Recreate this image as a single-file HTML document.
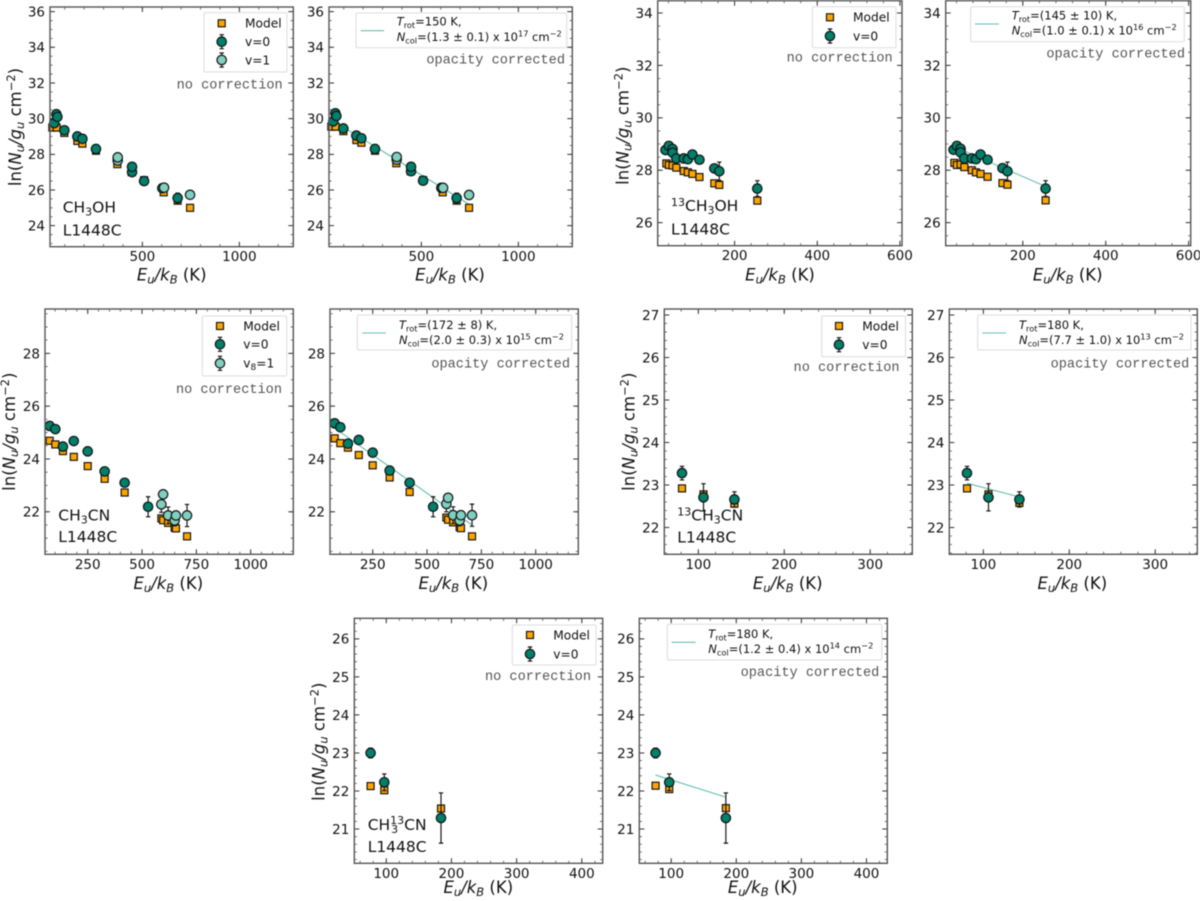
<!DOCTYPE html>
<html lang="en">
<head>
<meta charset="utf-8">
<title>Rotation diagrams L1448C</title>
<style>
html,body{margin:0;padding:0;background:#fff;}
svg{display:block;filter:blur(0.45px);}
text{font-family:"DejaVu Sans","Liberation Sans",sans-serif;fill:#111;}
.mono{font-family:"Liberation Mono","DejaVu Sans Mono",monospace;fill:#555;}
</style>
</head>
<body>
<svg id="figure" xmlns="http://www.w3.org/2000/svg" width="1200" height="901" viewBox="0 0 1200 901"></svg>
<script>
// ---------- CH3OH ----------
const ch3ohModelEu = [36, 58, 98, 165, 191, 261, 371, 445, 445, 509, 610, 682, 746];
const ch3ohModelNo = [29.5, 29.5, 29.2, 28.75, 28.6, 28.2, 27.45, 27.0, 27.2, 26.55, 25.87, 25.4, 25.0];
const ch3ohModelOp = [29.55, 29.55, 29.3, 28.8, 28.65, 28.2, 27.5, 27.05, 27.2, 26.55, 25.87, 25.4, 25.0];
const ch3ohV0Eu = [46, 57, 62, 98, 165, 191, 261, 447, 447, 509, 603, 682];
const ch3ohV0No = [29.75, 30.25, 30.1, 29.35, 29.0, 28.87, 28.3, 27.0, 27.3, 26.5, 26.1, 25.55];
const ch3ohV0Op = [29.85, 30.3, 30.15, 29.45, 29.05, 28.9, 28.3, 27.05, 27.3, 26.52, 26.12, 25.55];
const ch3ohV0Err = [0.1, 0.1, 0.1, 0.1, 0.1, 0.1, 0.1, 0.1, 0.1, 0.15, 0.15, 0.28];
const ch3ohV1Eu = [373, 373, 612, 746];
const ch3ohV1No = [27.65, 27.83, 26.13, 25.73];
const ch3ohV1Op = [27.7, 27.85, 26.12, 25.72];
const ch3ohV1Err = [0.1, 0.1, 0.1, 0.1];
const ch3ohFitEu = [46, 746];
const ch3ohFitY = [29.87, 25.2];
const ch3ohXTicks = [500, 1000];
const ch3ohYTicks = [24, 26, 28, 30, 32, 34, 36];

// ---------- 13CH3OH ----------
const c13h3ohModelEu = [35, 41, 50, 59, 77, 87, 98, 115, 151, 163, 255];
const c13h3ohModelNo = [28.26, 28.2, 28.18, 28.1, 27.97, 27.92, 27.86, 27.74, 27.5, 27.44, 26.84];
const c13h3ohModelOp = [28.28, 28.2, 28.22, 28.12, 28.0, 27.92, 27.86, 27.75, 27.51, 27.45, 26.85];
const c13h3ohV0Eu = [33, 41, 50, 50, 59, 77, 87, 98, 115, 151, 163, 255];
const c13h3ohV0No = [28.77, 28.93, 28.81, 28.67, 28.45, 28.45, 28.42, 28.6, 28.4, 28.07, 27.96, 27.3];
const c13h3ohV0Op = [28.78, 28.93, 28.82, 28.68, 28.45, 28.45, 28.42, 28.6, 28.4, 28.08, 27.96, 27.3];
const c13h3ohV0Err = [0.1, 0.1, 0.1, 0.1, 0.1, 0.1, 0.1, 0.1, 0.1, 0.15, 0.35, 0.3];
const c13h3ohFitEu = [33, 255];
const c13h3ohFitY = [28.91, 27.38];
const c13h3ohXTicks = [200, 400, 600];
const c13h3ohYTicks = [26, 28, 30, 32, 34];

// ---------- CH3CN ----------
const ch3cnModelEu = [75, 101, 136, 186, 250, 328, 420, 589, 597, 620, 650, 656, 707];
const ch3cnModelNo = [24.69, 24.55, 24.3, 24.08, 23.73, 23.25, 22.73, 21.75, 21.68, 21.58, 21.4, 21.37, 21.07];
const ch3cnModelOp = [24.78, 24.6, 24.43, 24.15, 23.76, 23.3, 22.75, 21.78, 21.7, 21.6, 21.42, 21.38, 21.07];
const ch3cnV0Eu = [75, 101, 136, 186, 250, 328, 420, 528];
const ch3cnV0No = [25.25, 25.13, 24.47, 24.68, 24.29, 23.53, 23.1, 22.19];
const ch3cnV0Op = [25.35, 25.2, 24.58, 24.72, 24.24, 23.56, 23.1, 22.19];
const ch3cnV0Err = [0.1, 0.1, 0.1, 0.1, 0.1, 0.1, 0.12, 0.38];
const ch3cnV1Eu = [589, 597, 620, 650, 656, 707];
const ch3cnV1No = [22.28, 22.66, 21.86, 21.67, 21.86, 21.86];
const ch3cnV1Op = [22.3, 22.53, 21.87, 21.67, 21.87, 21.87];
const ch3cnV1Err = [0.3, 0.15, 0.32, 0.2, 0.15, 0.42];
const ch3cnFitEu = [75, 707];
const ch3cnFitY = [25.17, 21.5];
const ch3cnXTicks = [250, 500, 750, 1000];
const ch3cnYTicks = [22, 24, 26, 28];

// ---------- 13CH3CN ----------
const c13h3cnModelEu = [81, 106, 142];
const c13h3cnModelNo = [22.92, 22.78, 22.56];
const c13h3cnModelOp = [22.92, 22.78, 22.58];
const c13h3cnV0Eu = [81, 106, 142];
const c13h3cnV0No = [23.28, 22.71, 22.66];
const c13h3cnV0Op = [23.28, 22.71, 22.66];
const c13h3cnV0Err = [0.16, 0.32, 0.18];
const c13h3cnFitEu = [81, 142];
const c13h3cnFitY = [23.04, 22.72];
const c13h3cnXTicks = [100, 200, 300];
const c13h3cnYTicks = [22, 23, 24, 25, 26, 27];

// ---------- CH3 13CN ----------
const ch313cnModelEu = [76, 97, 184];
const ch313cnModelNo = [22.13, 22.02, 21.54];
const ch313cnModelOp = [22.14, 22.05, 21.55];
const ch313cnV0Eu = [76, 97, 184];
const ch313cnV0No = [23.0, 22.23, 21.29];
const ch313cnV0Op = [23.0, 22.23, 21.29];
const ch313cnV0Err = [0.13, 0.22, 0.66];
const ch313cnFitEu = [76, 184];
const ch313cnFitY = [22.42, 21.84];
const ch313cnXTicks = [100, 200, 300, 400];
const ch313cnYTicks = [21, 22, 23, 24, 25, 26];

// ---------- text ----------
const xLabelText = '<tspan font-style="italic">E</tspan><tspan font-style="italic" dy="3" font-size="11.5">u</tspan><tspan font-style="italic" dy="-3">/k</tspan><tspan font-style="italic" dy="3" font-size="11.5">B</tspan><tspan dy="-3"> (K)</tspan>';
const yLabelText = 'ln(<tspan font-style="italic">N</tspan><tspan font-style="italic" dy="3" font-size="11.5">u</tspan><tspan font-style="italic" dy="-3">/g</tspan><tspan font-style="italic" dy="3" font-size="11.5">u</tspan><tspan dy="-3"> cm</tspan><tspan dy="-6" font-size="11.5">\u22122</tspan><tspan dy="6">)</tspan>';
const trotLine = (t) => '<tspan font-style="italic">T</tspan><tspan dy="2.5" font-size="8.2">rot</tspan><tspan dy="-2.5">=' + t + '</tspan>';
const ncolLine = (n, e) => '<tspan font-style="italic">N</tspan><tspan dy="2.5" font-size="8.2">col</tspan><tspan dy="-2.5">=' + n + ' x 10</tspan><tspan dy="-4.5" font-size="8.2">' + e + '</tspan><tspan dy="4.5"> cm</tspan><tspan dy="-4.5" font-size="8.2">\u22122</tspan>';

// ---------- panel layout ----------
const panels = [
 {id:'ch3oh-no-correction', box:[50,293.3,7,246.7], xlim:[24,1278], ylim:[22.82,36.26], xt:ch3ohXTicks, yt:ch3ohYTicks, xm:100, ym:0.5,
  model:[ch3ohModelEu,ch3ohModelNo], v0:[ch3ohV0Eu,ch3ohV0No,ch3ohV0Err], v1:[ch3ohV1Eu,ch3ohV1No,ch3ohV1Err],
  xlab:[171.7,280.5], ylab:[15,127], note:['no correction',282.7,85],
  legend:{box:[204,12.7,83,59.3], mx:221.7, tx:245, ys:[23.3,41.7,60], labels:['Model','v=0','v=1']},
  ann:[['CH<tspan dy="3" font-size="11">3</tspan><tspan dy="-3">OH</tspan>',62.7,207],['L1448C',62.7,230]]},
 {id:'ch3oh-opacity-corrected', box:[329,572.3,7,246.7], xlim:[24,1278], ylim:[22.82,36.26], xt:ch3ohXTicks, yt:ch3ohYTicks, xm:100, ym:0.5,
  model:[ch3ohModelEu,ch3ohModelOp], v0:[ch3ohV0Eu,ch3ohV0Op,ch3ohV0Err], v1:[ch3ohV1Eu,ch3ohV1Op,ch3ohV1Err], fit:[ch3ohFitEu,ch3ohFitY],
  xlab:[450,280.5], note:['opacity corrected',565,60],
  fitLegend:{box:[356,13,210.7,34.7], lx:[360.7,384], ly:30.7, tx:396.7, ys:[21.7,37], l1:trotLine('150 K,'), l2:ncolLine('(1.3 \u00b1 0.1)','17')}},
 {id:'13ch3oh-no-correction', box:[657.7,902,0.7,245.7], xlim:[14,605], ylim:[25.12,34.47], xt:c13h3ohXTicks, yt:c13h3ohYTicks, xm:40, ym:0.5,
  model:[c13h3ohModelEu,c13h3ohModelNo], v0:[c13h3ohV0Eu,c13h3ohV0No,c13h3ohV0Err],
  xlab:[780,280.5], ylab:[622.7,125.7], note:['no correction',892.7,58],
  legend:{box:[812.3,6.7,83.7,41], mx:830, tx:853, ys:[17.3,36], labels:['Model','v=0']},
  ann:[['<tspan dy="-5" font-size="11">13</tspan><tspan dy="5">CH</tspan><tspan dy="3" font-size="11">3</tspan><tspan dy="-3">OH</tspan>',671,205.7],['L1448C',671,229]]},
 {id:'13ch3oh-opacity-corrected', box:[945.7,1190.7,0.7,245.7], xlim:[14,605], ylim:[25.12,34.47], xt:c13h3ohXTicks, yt:c13h3ohYTicks, xm:40, ym:0.5,
  model:[c13h3ohModelEu,c13h3ohModelOp], v0:[c13h3ohV0Eu,c13h3ohV0Op,c13h3ohV0Err], fit:[c13h3ohFitEu,c13h3ohFitY],
  xlab:[1067.7,280.5], note:['opacity corrected',1185,54],
  fitLegend:{box:[970.7,6.7,213.6,35], lx:[975,999], ly:24, tx:1011.7, ys:[15.7,30.7], l1:trotLine('(145 \u00b1 10) K,'), l2:ncolLine('(1.0 \u00b1 0.1)','16')}},
 {id:'ch3cn-no-correction', box:[45,293.3,309,554.3], xlim:[53.5,1196], ylim:[20.39,29.68], xt:ch3cnXTicks, yt:ch3cnYTicks, xm:50, ym:0.5,
  model:[ch3cnModelEu,ch3cnModelNo], v0:[ch3cnV0Eu,ch3cnV0No,ch3cnV0Err], v1:[ch3cnV1Eu,ch3cnV1No,ch3cnV1Err],
  xlab:[168.3,589], ylab:[9,431.7], note:['no correction',282,389.3],
  legend:{box:[202.3,316,84.4,60], mx:220, tx:243.3, ys:[326,344.3,363.3], labels:['Model','v=0','v<tspan dy="2.5" font-size="9">8</tspan><tspan dy="-2.5">=1</tspan>']},
  ann:[['CH<tspan dy="3" font-size="11">3</tspan><tspan dy="-3">CN</tspan>',58.3,515],['L1448C',58.3,536.7]]},
 {id:'ch3cn-opacity-corrected', box:[330,578.3,309,554.3], xlim:[53.5,1196], ylim:[20.39,29.68], xt:ch3cnXTicks, yt:ch3cnYTicks, xm:50, ym:0.5,
  model:[ch3cnModelEu,ch3cnModelOp], v0:[ch3cnV0Eu,ch3cnV0Op,ch3cnV0Err], v1:[ch3cnV1Eu,ch3cnV1Op,ch3cnV1Err], fit:[ch3cnFitEu,ch3cnFitY],
  xlab:[453.3,589], note:['opacity corrected',570,364],
  fitLegend:{box:[357.3,315,214.4,35], lx:[362.3,386], ly:333, tx:399, ys:[325,340], l1:trotLine('(172 \u00b1 8) K,'), l2:ncolLine('(2.0 \u00b1 0.3)','15')}},
 {id:'13ch3cn-no-correction', box:[664.3,912.3,309,554.3], xlim:[60.4,349], ylim:[21.37,27.14], xt:c13h3cnXTicks, yt:c13h3cnYTicks, xm:20, ym:0.2,
  model:[c13h3cnModelEu,c13h3cnModelNo], v0:[c13h3cnV0Eu,c13h3cnV0No,c13h3cnV0Err],
  xlab:[787.7,589], ylab:[628.3,431.7], note:['no correction',899.6,367.3],
  legend:{box:[821.7,316,83.8,40.7], mx:839, tx:862.3, ys:[326,344.7], labels:['Model','v=0']},
  ann:[['<tspan dy="-5" font-size="11">13</tspan><tspan dy="5">CH</tspan><tspan dy="3" font-size="11">3</tspan><tspan dy="-3">CN</tspan>',677.3,515],['L1448C',677.3,537]]},
 {id:'13ch3cn-opacity-corrected', box:[949.3,1197.3,309,554.3], xlim:[60.4,349], ylim:[21.37,27.14], xt:c13h3cnXTicks, yt:c13h3cnYTicks, xm:20, ym:0.2,
  model:[c13h3cnModelEu,c13h3cnModelOp], v0:[c13h3cnV0Eu,c13h3cnV0Op,c13h3cnV0Err], fit:[c13h3cnFitEu,c13h3cnFitY],
  xlab:[1072.3,589], note:['opacity corrected',1189.3,364],
  fitLegend:{box:[977.7,315,213.3,35], lx:[982.3,1006], ly:333, tx:1019, ys:[325,340], l1:trotLine('180 K,'), l2:ncolLine('(7.7 \u00b1 1.0)','13')}},
 {id:'ch313cn-no-correction', box:[354.3,602.7,618.3,863.3], xlim:[51,432], ylim:[20.1,26.54], xt:ch313cnXTicks, yt:ch313cnYTicks, xm:20, ym:0.2,
  model:[ch313cnModelEu,ch313cnModelNo], v0:[ch313cnV0Eu,ch313cnV0No,ch313cnV0Err],
  xlab:[478.3,893], ylab:[318.3,741.7], note:['no correction',591,676.3],
  legend:{box:[512.3,625,83.7,40], mx:530, tx:553.3, ys:[635,654], labels:['Model','v=0']},
  ann:[['CH<tspan dy="-6" font-size="11">13</tspan><tspan dy="9" dx="-13" font-size="11">3</tspan><tspan dy="-3" dx="6">CN</tspan>',367.7,824.3],['L1448C',367.7,846.7]]},
 {id:'ch313cn-opacity-corrected', box:[639.3,887.3,618.3,863.3], xlim:[51,432], ylim:[20.1,26.54], xt:ch313cnXTicks, yt:ch313cnYTicks, xm:20, ym:0.2,
  model:[ch313cnModelEu,ch313cnModelOp], v0:[ch313cnV0Eu,ch313cnV0Op,ch313cnV0Err], fit:[ch313cnFitEu,ch313cnFitY],
  xlab:[762.7,893], note:['opacity corrected',879.3,672.7],
  fitLegend:{box:[667.3,624.3,214.4,35.7], lx:[671.7,695.7], ly:642.3, tx:708.3, ys:[634,649], l1:trotLine('180 K,'), l2:ncolLine('(1.2 \u00b1 0.4)','14')}}
];

const NS = 'http://www.w3.org/2000/svg';
const svg = document.getElementById('figure');
const FRAME = '#555';
const V0COLOR = '#007f6b';
const V1COLOR = '#80cfc0';
const MODELCOLOR = '#ffa500';
const FITCOLOR = '#66bfae';

function mk(parent, tag, attrs, html) {
  const el = document.createElementNS(NS, tag);
  for (const k in attrs) el.setAttribute(k, attrs[k]);
  if (html !== undefined) el.innerHTML = html;
  parent.appendChild(el);
  return el;
}

function drawSquare(g, cx, cy, name) {
  const el = mk(g, 'rect', {x: cx - 3.5, y: cy - 3.5, width: 7, height: 7, fill: MODELCOLOR, stroke: '#111', 'stroke-width': 1.15});
  
  
}

function drawPoint(g, cx, cy, yTop, yBot, color, name) {
  if (yBot - yTop > 0) {
    const bar = mk(g, 'path', {d: 'M' + cx + ' ' + yTop + 'V' + yBot + 'M' + (cx - 2.2) + ' ' + yTop + 'H' + (cx + 2.2) + 'M' + (cx - 2.2) + ' ' + yBot + 'H' + (cx + 2.2), stroke: '#111', 'stroke-width': 1.15, fill: 'none'});
    
    
  }
  const c = mk(g, 'circle', {cx: cx, cy: cy, r: 4.7, fill: color, stroke: '#111', 'stroke-width': 1.2});
  
  
}

function drawPanel(p) {
  const L = p.box[0], R = p.box[1], T = p.box[2], B = p.box[3];
  const xs = v => L + (v - p.xlim[0]) / (p.xlim[1] - p.xlim[0]) * (R - L);
  const ys = v => B - (v - p.ylim[0]) / (p.ylim[1] - p.ylim[0]) * (B - T);

  const g = mk(svg, 'g', {});
  
  

  // minor ticks
  let d = '';
  for (let k = Math.ceil(p.xlim[0] / p.xm); k * p.xm <= p.xlim[1]; k++) {
    const x = xs(k * p.xm).toFixed(2);
    d += 'M' + x + ' ' + B + 'v-2.6M' + x + ' ' + T + 'v2.6';
  }
  for (let k = Math.ceil(p.ylim[0] / p.ym); k * p.ym <= p.ylim[1]; k++) {
    const y = ys(k * p.ym).toFixed(2);
    d += 'M' + L + ' ' + y + 'h2.6M' + R + ' ' + y + 'h-2.6';
  }
  const minor = mk(g, 'path', {d: d, stroke: FRAME, 'stroke-width': 0.8, fill: 'none'});
  
  

  // major ticks and labels
  let dm = '';
  p.xt.forEach(v => {
    const x = xs(v);
    dm += 'M' + x.toFixed(2) + ' ' + B + 'v-5M' + x.toFixed(2) + ' ' + T + 'v5';
    const t = mk(g, 'text', {x: x, y: B + 14.5, 'text-anchor': 'middle', 'font-size': 13.5}, String(v));
    
    
  });
  p.yt.forEach(v => {
    const y = ys(v);
    dm += 'M' + L + ' ' + y.toFixed(2) + 'h5M' + R + ' ' + y.toFixed(2) + 'h-5';
    const t = mk(g, 'text', {x: L - 5, y: y + 4.9, 'text-anchor': 'end', 'font-size': 13.5}, String(v));
    
    
  });
  const major = mk(g, 'path', {d: dm, stroke: '#333', 'stroke-width': 1, fill: 'none'});
  
  

  // fit line
  if (p.fit) {
    const pts = p.fit[0].map((e, i) => xs(e).toFixed(2) + ',' + ys(p.fit[1][i]).toFixed(2)).join(' ');
    const fl = mk(g, 'polyline', {points: pts, fill: 'none', stroke: FITCOLOR, 'stroke-width': 1.1});
    
    
  }

  // series
  p.model[0].forEach((e, i) => drawSquare(g, xs(e), ys(p.model[1][i]), 'model-point'));
  p.v0[0].forEach((e, i) => {
    const v = p.v0[1][i], er = p.v0[2][i];
    drawPoint(g, xs(e), ys(v), ys(v + er), ys(v - er), V0COLOR, 'v0-point');
  });
  if (p.v1) p.v1[0].forEach((e, i) => {
    const v = p.v1[1][i], er = p.v1[2][i];
    drawPoint(g, xs(e), ys(v), ys(v + er), ys(v - er), V1COLOR, 'v1-point');
  });

  // frame
  const fr = mk(g, 'rect', {x: L, y: T, width: R - L, height: B - T, fill: 'none', stroke: FRAME, 'stroke-width': 1.4});
  
  

  // axis labels
  const xl = mk(g, 'text', {x: p.xlab[0], y: p.xlab[1], 'text-anchor': 'middle', 'font-size': 16.5}, xLabelText);
  
  
  if (p.ylab) {
    const yl = mk(g, 'text', {transform: 'translate(' + (p.ylab[0] + 6) + ' ' + p.ylab[1] + ') rotate(-90)', 'text-anchor': 'middle', 'font-size': 16.5}, yLabelText);
    
    
  }

  // note
  const n = mk(g, 'text', {x: p.note[1], y: p.note[2] + 3.5, 'text-anchor': 'end', 'font-size': 13.6, class: 'mono'}, p.note[0]);
  
  

  // annotations
  if (p.ann) p.ann.forEach(a => {
    const t = mk(g, 'text', {x: a[1], y: a[2] + 5.5, 'font-size': 15.5}, a[0]);
    
    
  });

  // point legend
  if (p.legend) {
    const lg = p.legend;
    const lgGroup = mk(g, 'g', {});
    
    
    const bx = mk(lgGroup, 'rect', {x: lg.box[0], y: lg.box[1], width: lg.box[2], height: lg.box[3], rx: 1.5, fill: '#fff', 'fill-opacity': 0.85, stroke: '#ddd', 'stroke-width': 1});
    
    
    lg.labels.forEach((lab, i) => {
      const y = lg.ys[i];
      if (i === 0) drawSquare(lgGroup, lg.mx, y, 'legend-model-marker');
      else drawPoint(lgGroup, lg.mx, y, y - 7, y + 7, i === 1 ? V0COLOR : V1COLOR, 'legend-series-marker');
      const t = mk(lgGroup, 'text', {x: lg.tx, y: y + 4.4, 'font-size': 12.2}, lab);
      
      
    });
  }

  // fit legend
  if (p.fitLegend) {
    const fg = p.fitLegend;
    const lgGroup = mk(g, 'g', {});
    
    
    const bx = mk(lgGroup, 'rect', {x: fg.box[0], y: fg.box[1], width: fg.box[2], height: fg.box[3], rx: 1.5, fill: '#fff', 'fill-opacity': 0.85, stroke: '#ddd', 'stroke-width': 1});
    
    
    const ln = mk(lgGroup, 'line', {x1: fg.lx[0], x2: fg.lx[1], y1: fg.ly, y2: fg.ly, stroke: FITCOLOR, 'stroke-width': 1.1});
    
    
    const t1 = mk(lgGroup, 'text', {x: fg.tx, y: fg.ys[0] + 4, 'font-size': 11.5}, fg.l1);
    
    
    const t2 = mk(lgGroup, 'text', {x: fg.tx, y: fg.ys[1] + 4, 'font-size': 11.5}, fg.l2);
    
    
  }
}

panels.forEach(drawPanel);
</script>
</body>
</html>
